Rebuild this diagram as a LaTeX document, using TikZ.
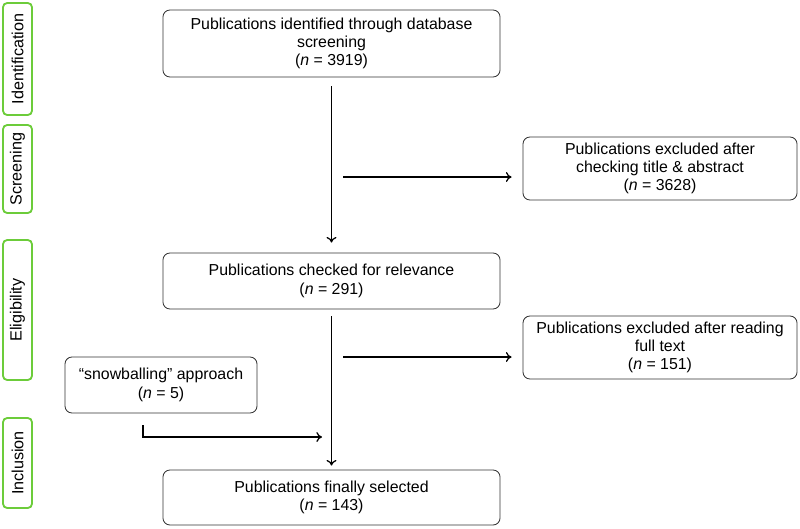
\documentclass[tikz,border=0pt]{standalone}
\usepackage{fontspec}
\setmainfont{Liberation Sans}
\usetikzlibrary{positioning,arrows.meta}
\definecolor{stagegreen}{RGB}{108,204,58}
\tikzset{
	box/.style={draw=black!80, rounded corners=5pt, line width=0.6pt, align=center,
		inner sep=2pt, font=\fontsize{11.3}{13}\selectfont},
	stage/.style={draw=stagegreen, line width=1.3pt, rounded corners=3pt, rotate=90,
		minimum height=0.725cm, inner sep=0pt, font=\fontsize{11.5}{13}\selectfont},
	flow/.style={-{To[length=4pt,width=7pt]}, line width=0.9pt}
}
\begin{document}
\begin{tikzpicture}[x=0.025cm, y=-0.025cm]
			\useasboundingbox[fill=white] (0,0) rectangle (800,528);
			
			% Stages
			\node[stage, minimum width=2.8cm] (sid) at (17.5,59) {Identification};
			\node[stage, minimum width=2.2cm] (ssc) at (17.5,169) {Screening};
			\node[stage, minimum width=3.5cm] (sel) at (17.5,310) {Eligibility};
			\node[stage, minimum width=2.25cm] (sin) at (17.5,463) {Inclusion};
			
			% Main boxes
			\node[box, minimum width=8.425cm, minimum height=1.675cm] (ident) at (331.5,43.5)
				{Publications identified through database\\screening\\(\textit{n} = 3919)};
			\node[box, minimum width=8.425cm, minimum height=1.4cm] (relev) at (331.5,281)
				{Publications checked for relevance\\(\textit{n} = 291)};
			\node[box, minimum width=8.425cm, minimum height=1.375cm] (final) at (331.5,497.5)
				{Publications finally selected\\(\textit{n} = 143)};
			
			% Side boxes
			\node[box, minimum width=6.85cm, minimum height=1.575cm] (excla) at (660,168.5)
				{Publications excluded after\\checking title \& abstract\\(\textit{n} = 3628)};
			\node[box, minimum width=6.85cm, minimum height=1.575cm] (exclb) at (660,347.5)
				{Publications excluded after reading\\full text\\(\textit{n} = 151)};
			\node[box, minimum width=4.8cm, minimum height=1.4cm] (snow) at (161,385)
				{“snowballing” approach\\(\textit{n} = 5)};
			
			% Arrows
			\coordinate (sa) at (343,177);
			\coordinate (sb) at (343,357);
			\coordinate (join) at (322,437);
			\draw[flow, shorten <=0.225cm, shorten >=0.25cm] (ident.south) -- (relev.north);
			\draw[flow, shorten <=0.175cm, shorten >=0.1cm] (relev.south) -- (final.north);
			\draw[flow, shorten >=0.275cm] (sa) -- (sa -| excla.west);
			\draw[flow, shorten >=0.275cm] (sb) -- (sb -| exclb.west);
			\draw[flow, shorten <=0.3cm] ([xshift=-0.45cm]snow.south) |- (join);
		\end{tikzpicture}
\end{document}
